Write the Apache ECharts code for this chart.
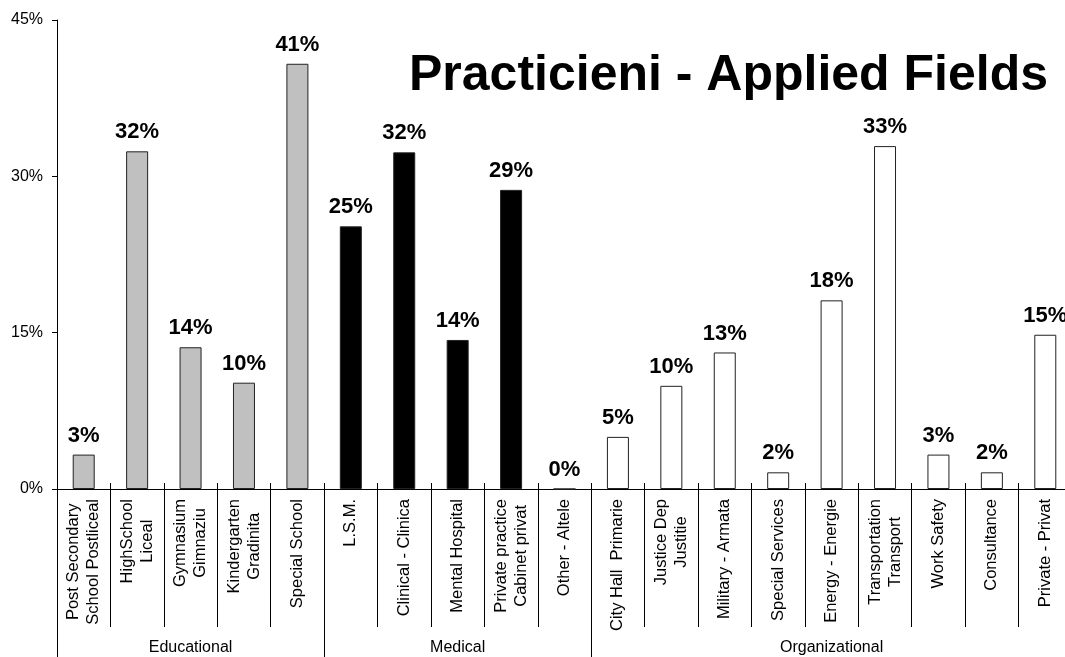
<!DOCTYPE html>
<html>
<head>
<meta charset="utf-8">
<script src="https://cdn.jsdelivr.net/npm/echarts@6/dist/echarts.min.js"></script>
<style>
html,body{margin:0;padding:0;background:#fff;}
#chart{width:1065px;height:657px;}
</style>
</head>
<body>
<div id="chart"></div>
<script>
// ---- data ----
const titleText = 'Practicieni - Applied Fields';
const categories = [
  'Post Secondary\nSchool Postliceal', 'HighSchool\nLiceal', 'Gymnasium\nGimnaziu', 'Kindergarten\nGradinita', 'Special School',
  'L.S.M.', 'Clinical - Clinica', 'Mental Hospital', 'Private practice\nCabinet privat', 'Other - Altele',
  'City Hall  Primarie', 'Justice Dep\nJustitie', 'Military - Armata', 'Special Services', 'Energy - Energie',
  'Transportation\nTransport', 'Work Safety', 'Consultance', 'Private - Privat'
];
const values = [
  3.3, 32.4, 13.6, 10.2, 40.8,
  25.2, 32.3, 14.3, 28.7, 0,
  5.0, 9.9, 13.1, 1.6, 18.1, 32.9, 3.3, 1.6, 14.8
];
const groupNames = ['Educational', 'Medical', 'Organizational'];
const groupSizes = [5, 5, 9];
const yTicks = [0, 15, 30, 45];

// ---- styles ----
const groupColors = ['#C0C0C0', '#000000', '#FFFFFF'];
const FONT = "'Liberation Sans', Arial, sans-serif";

// build per-item data and group axis
const seriesData = [];
const groupAxisData = [];
const groupBoundaries = [];
let idx = 0;
groupSizes.forEach((n, g) => {
  groupBoundaries.push(idx);
  for (let k = 0; k < n; k++) {
    seriesData.push({ value: values[idx], itemStyle: { color: groupColors[g] } });
    groupAxisData.push(k === (n - 1) / 2 ? groupNames[g] : '');
    idx++;
  }
});

const chart = echarts.init(document.getElementById('chart'), null, { renderer: 'canvas' });
chart.setOption({
  animation: false,
  backgroundColor: '#fff',
  title: {
    text: titleText,
    left: 404, top: 46,
    textStyle: { fontFamily: FONT, fontSize: 50, fontWeight: 'bold', color: '#000' }
  },
  grid: { left: 57, right: -7, top: 20, bottom: 168, outerBoundsMode: 'none', containLabel: false },
  yAxis: {
    type: 'value', min: yTicks[0], max: yTicks[yTicks.length - 1], interval: 15,
    axisLine: { show: true, lineStyle: { color: '#000', width: 1 } },
    axisTick: { show: true, length: 5, lineStyle: { color: '#000' } },
    splitLine: { show: false },
    axisLabel: { formatter: '{value}%', margin: 14, fontFamily: FONT, fontSize: 16, color: '#000' }
  },
  xAxis: [
    {
      type: 'category', data: categories, position: 'bottom',
      axisLine: { show: true, lineStyle: { color: '#000', width: 1 } },
      axisTick: { show: true, interval: 0, length: 138, lineStyle: { color: '#000' } },
      axisLabel: {
        interval: 0, rotate: 90, margin: 10,
        formatter: v => v.split('\n').map(s => '{c|' + s + '}').join('\n'),
        rich: { c: { align: 'center', fontFamily: FONT, fontSize: 16.5, lineHeight: 20, color: '#000' } },
        fontFamily: FONT, fontSize: 16.5, lineHeight: 20, color: '#000'
      }
    },
    {
      type: 'category', data: categories, position: 'bottom',
      axisLine: { show: false },
      axisTick: { show: true, interval: 0, inside: true, length: 6, lineStyle: { color: '#000' } },
      axisLabel: { show: false }
    },
    {
      type: 'category', data: groupAxisData, position: 'bottom',
      axisLine: { show: false },
      axisTick: { show: true, interval: i => groupBoundaries.indexOf(i) >= 0, length: 175, lineStyle: { color: '#000' } },
      axisLabel: { interval: 0, margin: 151, fontFamily: FONT, fontSize: 16, color: '#000' }
    }
  ],
  series: [{
    type: 'bar',
    xAxisIndex: 0,
    data: seriesData,
    barWidth: 22,
    itemStyle: { borderColor: '#222', borderWidth: 1 },
    label: {
      show: true, position: 'top', distance: 8,
      formatter: p => Math.round(p.value) + '%',
      fontFamily: FONT, fontSize: 22, fontWeight: 'bold', color: '#000'
    }
  }]
});
</script>
</body>
</html>
